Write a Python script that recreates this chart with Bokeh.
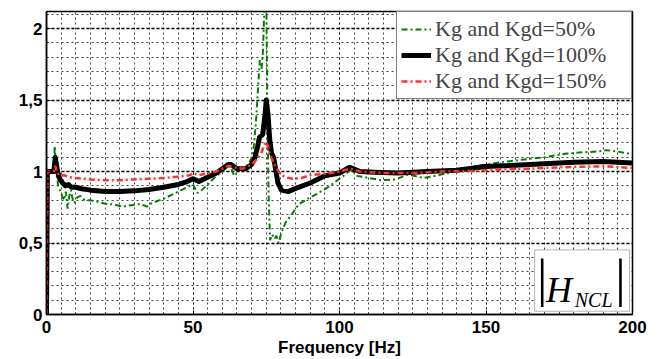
from bokeh.plotting import figure
from bokeh.models import FixedTicker, Legend, LegendItem, BoxAnnotation, Label, Range1d
from bokeh.embed import file_html
from bokeh.resources import INLINE

# ---- data ----
freq_50 = [0, 0.3, 2.5, 2.8, 3.3, 4.0, 4.8, 5.5, 6.0, 6.6, 7.2, 7.8, 8.3, 9.0, 9.5, 10.5, 11.6, 13,
           15, 17, 20, 23, 26, 29, 32, 34.3, 36, 40, 44, 48, 50, 51.5, 53, 55, 58, 60, 62, 63, 64,
           66, 69, 70.5, 71.5, 72.3, 72.8, 73.4, 73.9, 74.5, 75.0, 75.4, 75.8, 76.3, 77, 77.8, 78.5,
           79.2, 80, 81.5, 84, 86, 90, 92, 96, 100, 102, 104, 106, 110, 114, 119, 123.5, 128.7, 134,
           140, 147, 155, 163, 170, 177, 183, 188, 191, 195, 200]
gain_50 = [0, 1.0, 1.0, 1.18, 1.0, 0.90, 0.86, 0.82, 0.80, 0.86, 0.74, 0.83, 0.87, 0.80, 0.78, 0.82,
           0.83, 0.80, 0.80, 0.79, 0.775, 0.77, 0.755, 0.765, 0.774, 0.755, 0.78, 0.81, 0.85, 0.89,
           0.91, 0.85, 0.87, 0.91, 0.97, 1.0, 1.04, 1.03, 0.97, 1.01, 1.05, 1.12, 1.35, 1.62, 1.78,
           1.72, 1.85, 2.25, 2.25, 1.4, 0.85, 0.52, 0.56, 0.53, 0.55, 0.50, 0.56, 0.64, 0.71, 0.77,
           0.82, 0.84, 0.89, 0.95, 0.98, 1.015, 0.97, 0.955, 0.94, 0.945, 0.98, 0.955, 0.975, 1.005,
           1.04, 1.065, 1.085, 1.10, 1.125, 1.135, 1.14, 1.15, 1.14, 1.12]

freq_100 = [0, 0.3, 2.5, 3.0, 3.3, 3.8, 4.5, 5.5, 6.5, 7.5, 8.5, 10, 12, 15, 20, 25, 30, 35, 40, 45,
            48, 50, 52, 55, 58, 60, 62, 63, 65, 68, 70, 71, 72, 72.7, 73.8, 74.6, 75, 75.6, 76.2,
            76.8, 77.5, 79, 80.2, 82.5, 86, 90, 95, 100, 103.5, 107, 112, 120, 130, 140, 150, 160,
            170, 180, 190, 195, 200]
gain_100 = [0, 1.0, 1.0, 1.10, 1.06, 1.0, 0.95, 0.92, 0.90, 0.91, 0.89, 0.89, 0.88, 0.87, 0.86, 0.86,
            0.865, 0.875, 0.89, 0.91, 0.93, 0.95, 0.93, 0.96, 0.99, 1.02, 1.05, 1.05, 1.02, 1.02,
            1.05, 1.09, 1.17, 1.24, 1.26, 1.40, 1.50, 1.40, 1.22, 1.13, 1.10, 0.92, 0.87, 0.86, 0.89,
            0.92, 0.97, 0.99, 1.03, 1.0, 0.995, 0.99, 1.0, 1.01, 1.035, 1.045, 1.055, 1.065, 1.07,
            1.065, 1.06]

freq_150 = [0, 0.3, 2.5, 3.0, 3.5, 4.5, 6, 8, 10, 15, 20, 25, 30, 35, 40, 45, 49, 50, 52, 55, 58, 60,
            62, 64, 67, 70, 72, 73.5, 74.8, 75.5, 76.3, 77.5, 78.6, 80, 81.5, 84, 87, 90, 95, 100,
            103.5, 107, 115, 125, 135, 145, 155, 165, 175, 185, 192, 200]
gain_150 = [0, 1.0, 1.0, 1.04, 1.0, 0.97, 0.975, 0.96, 0.955, 0.945, 0.94, 0.94, 0.945, 0.95, 0.955,
            0.965, 0.975, 0.99, 0.975, 0.985, 1.0, 1.02, 1.04, 1.03, 1.02, 1.05, 1.09, 1.14, 1.21,
            1.18, 1.12, 1.06, 1.02, 0.98, 0.96, 0.95, 0.955, 0.975, 0.985, 1.0, 1.02, 1.0, 0.99,
            0.99, 1.0, 1.005, 1.015, 1.02, 1.03, 1.035, 1.035, 1.025]

series_labels = ["Kg and Kgd=50%", "Kg and Kgd=100%", "Kg and Kgd=150%"]
x_ticks = [0, 50, 100, 150, 200]
y_ticks = [0, 0.5, 1, 1.5, 2]
y_tick_labels = ["0", "0,5", "1", "1,5", "2"]
x_label = "Frequency [Hz]"

# ---- figure ----
p = figure(width=668, height=359, output_backend="svg", toolbar_location=None,
           x_range=Range1d(0, 200), y_range=Range1d(0, 2.12),
           min_border_left=46, min_border_right=36, min_border_top=11, min_border_bottom=45)
p.background_fill_color = "white"
p.border_fill_color = "white"
p.outline_line_color = "black"
p.outline_line_width = 1.5

p.xaxis.ticker = FixedTicker(ticks=x_ticks, minor_ticks=[i * 5 for i in range(41)])
p.yaxis.ticker = FixedTicker(ticks=y_ticks, minor_ticks=[i / 10 for i in range(22)])
p.yaxis.major_label_overrides = {t: l for t, l in zip(y_ticks, y_tick_labels)}
for ax in (p.xaxis, p.yaxis):
    ax.major_label_text_font = "Liberation Sans"
    ax.major_label_text_font_style = "bold"
    ax.major_label_text_font_size = "17px"
    ax.major_label_text_color = "black"
    ax.axis_line_color = "black"
    ax.axis_line_width = 1.5
    ax.major_tick_in = 4
    ax.major_tick_out = 0
    ax.minor_tick_in = 2
    ax.minor_tick_out = 0
    ax.major_tick_line_color = "black"
    ax.minor_tick_line_color = "black"
p.xaxis.major_label_standoff = 6
p.yaxis.major_label_standoff = 4
p.xaxis.axis_label = x_label
p.xaxis.axis_label_text_font = "Liberation Sans"
p.xaxis.axis_label_text_font_style = "bold"
p.xaxis.axis_label_text_font_size = "17px"
p.xaxis.axis_label_text_color = "black"
p.xaxis.axis_label_standoff = 2

# grids (MATLAB-style dotted grid + minor grid)
p.xgrid.grid_line_color = "black"
p.xgrid.grid_line_alpha = 0.75
p.xgrid.grid_line_dash = "2 3"
p.xgrid.grid_line_width = 1
p.xgrid.minor_grid_line_color = "black"
p.xgrid.minor_grid_line_alpha = 0.75
p.xgrid.minor_grid_line_dash = "2 3"
p.xgrid.minor_grid_line_width = 1
p.ygrid.grid_line_color = "black"
p.ygrid.grid_line_dash = "3 2"
p.ygrid.grid_line_width = 1.5
p.ygrid.minor_grid_line_color = "black"
p.ygrid.minor_grid_line_alpha = 0.75
p.ygrid.minor_grid_line_dash = "2 3"
p.ygrid.minor_grid_line_width = 1

# curves
r50 = p.line(freq_50, gain_50, line_color="#008000", line_width=2, line_dash="6 3 2 3")
r100 = p.line(freq_100, gain_100, line_color="black", line_width=5, line_join="round")
r150 = p.line(freq_150, gain_150, line_color="#ff3030", line_width=2.5, line_dash="6 3 2 3")

legend = Legend(items=[LegendItem(label=series_labels[0], renderers=[r50]),
                       LegendItem(label=series_labels[1], renderers=[r100]),
                       LegendItem(label=series_labels[2], renderers=[r150])],
                location="top_right", margin=0, padding=4, spacing=0,
                label_text_font="Liberation Serif", label_text_font_size="22px",
                label_height=24, glyph_height=24, glyph_width=30, label_width=192,
                label_standoff=4, border_line_color="black", border_line_width=1,
                background_fill_color="white", background_fill_alpha=1)
p.add_layout(legend)

# |H_NCL| annotation box
p.add_layout(BoxAnnotation(left=166.6, right=199.0, bottom=0.023, top=0.452,
                           fill_color="white", fill_alpha=1, line_color="black", line_width=1))
for txt, x, y, size, style, base in [("|", 169.2, 0.25, "52px", "normal", "middle"),
                                     ("H", 170.5, 0.168, "36px", "italic", "alphabetic"),
                                     ("NCL", 180.3, 0.103, "20px", "italic", "alphabetic"),
                                     ("|", 195.9, 0.25, "52px", "normal", "middle")]:
    p.add_layout(Label(x=x, y=y, text=txt, text_font="Liberation Serif", text_font_size=size,
                       text_font_style=style, text_baseline=base,
                       text_align="center" if txt == "|" else "left", text_color="black"))

open("out.html", "w").write(file_html(p, INLINE))
